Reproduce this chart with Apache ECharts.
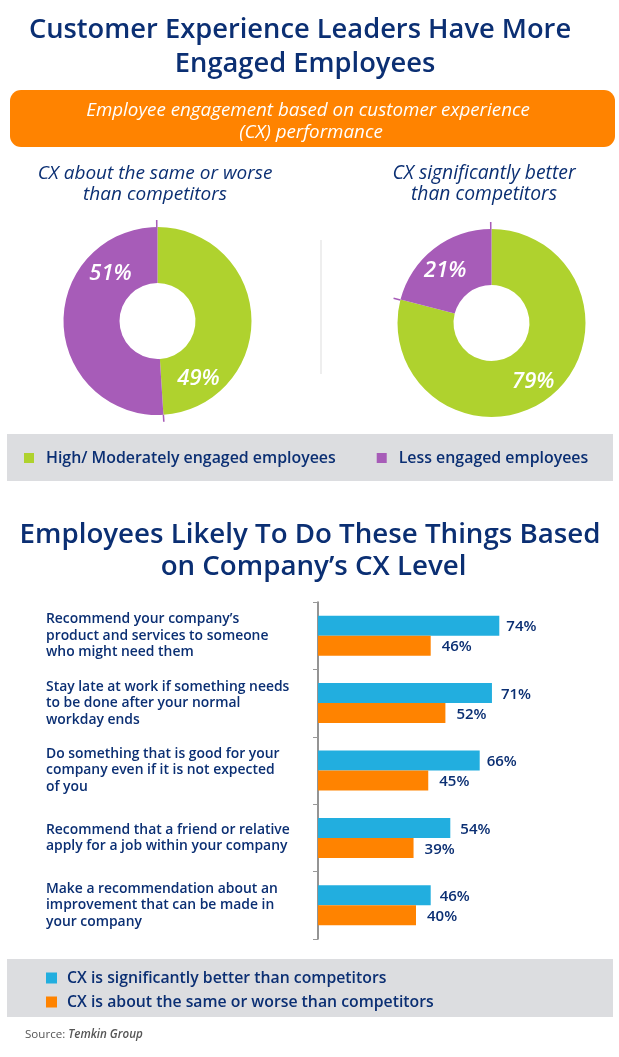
<!DOCTYPE html>
<html lang="en">
<head>
    <meta charset="UTF-8">
    <title>Customer Experience Leaders Have More Engaged Employees</title>
    <script src="https://cdn.jsdelivr.net/npm/echarts@6/dist/echarts.min.js"></script>
</head>
<body style="margin: 0;background: #fff">
<div id="main" style="width: 619px;height: 1057px"></div>
<script>
const navy = '#0b2f73', orange = '#ff8300', green = '#afd22e', purple = '#a75cb8', blue = '#22aedf', panel = '#dcdde0'
const font = '"Open Sans"'
const highName = 'High/ Moderately engaged employees', lessName = 'Less engaged employees'
const betterName = 'CX is significantly better than competitors', worseName = 'CX is about the same or worse than competitors'

const categories = [
    'Recommend your company\u2019s\nproduct and services to someone\nwho might need them',
    'Stay late at work if something needs\nto be done after your normal\nworkday ends',
    'Do something that is good for your\ncompany even if it is not expected\nof you',
    'Recommend that a friend or relative\napply for a job within your company',
    'Make a recommendation about an\nimprovement that can be made in\nyour company'
]
const better = [74, 71, 66, 54, 46]
const worse = [46, 52, 45, 39, 40]
// gap between bar end and its label differs per row in the picture
const betterGap = [7, 9, 7, 10, 9]
const worseGap = [11, 11, 11, 11, 11]

function text(x, y, str, size, weight, style, color) {
    return {
        type: 'text', x: x, y: y, z: 5,
        style: {
            text: str, fill: color || navy, align: 'center', verticalAlign: 'middle',
            font: (style || 'normal') + ' ' + weight + ' ' + size + 'px ' + font
        }
    }
}

// offset moves the label from the middle of the ring to where the picture has it
function donut(name, center, high, less, highOffset, lessOffset) {
    return {
        name: name, type: 'pie', center: center, radius: [38, 94], startAngle: 90, silent: true,
        label: {
            position: 'inside', formatter: '{c}%', color: '#fff', fontSize: 22, fontWeight: 600,
            fontStyle: 'italic', fontFamily: font
        },
        labelLine: { show: false },
        data: [
            { name: highName, value: high, itemStyle: { color: green }, label: { offset: highOffset } },
            { name: lessName, value: less, itemStyle: { color: purple }, label: { offset: lessOffset } }
        ]
    }
}

// the thin purple whiskers on the outside of each slice boundary
function whiskers(center, high, less) {
    const clear = { color: 'transparent' }, mark = { color: purple }
    return {
        type: 'pie', center: center, radius: [94, 101], startAngle: 90, silent: true,
        label: { show: false }, labelLine: { show: false },
        data: [
            { name: 'a', value: high, itemStyle: clear },
            { name: 'b', value: 0.25, itemStyle: mark },
            { name: 'c', value: less - 0.25, itemStyle: clear },
            { name: 'd', value: 0.25, itemStyle: mark }
        ]
    }
}

const option = {
    animation: false,
    graphic: [
        text(300, 30, 'Customer Experience Leaders Have More', 27.3, 600),
        text(305, 64, 'Engaged Employees', 27.3, 600),
        { type: 'rect', z: 1, shape: { x: 10, y: 90, width: 605, height: 57, r: 11 }, style: { fill: orange } },
        text(308, 111, 'Employee engagement based on customer experience', 18.8, 400, 'italic', '#fff'),
        text(311, 133, '(CX) performance', 18.8, 400, 'italic', '#fff'),
        text(155, 174, 'CX about the same or worse', 19, 400, 'italic'),
        text(155, 195, 'than competitors', 19, 400, 'italic'),
        text(484, 174, 'CX significantly better', 19.3, 400, 'italic'),
        text(484, 195, 'than competitors', 19.3, 400, 'italic'),
        { type: 'line', z: 1, shape: { x1: 321, y1: 240, x2: 321, y2: 374 }, style: { stroke: '#dddddd', lineWidth: 1 } },
        { type: 'rect', z: 1, shape: { x: 7, y: 434, width: 606, height: 47 }, style: { fill: panel } },
        text(310, 535, 'Employees Likely To Do These Things Based', 27.7, 600),
        text(313.5, 567, 'on Company\u2019s CX Level', 27.7, 600),
        { type: 'rect', z: 1, shape: { x: 7, y: 959, width: 606, height: 58 }, style: { fill: panel } },
        {
            type: 'text', x: 25, y: 1035, z: 5,
            style: {
                text: '{a|Source: }{b|Temkin Group}', align: 'left', verticalAlign: 'middle',
                rich: {
                    a: { fill: '#555', font: '11.6px ' + font },
                    b: { fill: '#555', font: 'italic 600 11.6px ' + font }
                }
            }
        }
    ],
    legend: [
        {
            left: 19, top: 445, orient: 'horizontal', icon: 'rect', itemWidth: 10, itemHeight: 10, itemGap: 41, selectedMode: false,
            textStyle: { color: navy, fontFamily: font, fontSize: 15.9, fontWeight: 600, padding: [0, 0, 0, 7] },
            data: [highName, lessName]
        },
        {
            left: 41, top: 965, orient: 'vertical', icon: 'rect', itemWidth: 11, itemHeight: 11, itemGap: 8, selectedMode: false,
            textStyle: { color: navy, fontFamily: font, fontSize: 15.8, fontWeight: 600, padding: [0, 0, 0, 5] },
            data: [betterName, worseName]
        }
    ],
    grid: { left: 318, top: 602, width: 245, height: 337, outerBoundsMode: 'none' },
    xAxis: { type: 'value', min: 0, max: 100, show: false },
    yAxis: {
        type: 'category', inverse: true, data: categories,
        axisLine: { lineStyle: { color: '#707070', width: 1.5 } },
        axisTick: { show: true, length: 5, lineStyle: { color: '#999999' } },
        axisLabel: {
            align: 'left', margin: 272, color: navy, fontFamily: font, fontSize: 13.9, fontWeight: 600, lineHeight: 16.5
        }
    },
    series: [
        donut('left', [157.5, 321], 49, 51, [-28, 59.5], [22, -49]),
        donut('right', [491.5, 323], 79, 21, [-0.5, 4.5], [-4, 2]),
        whiskers([157.5, 321], 49, 51),
        whiskers([491.5, 323], 79, 21),
        {
            name: betterName, type: 'bar', barWidth: 20, barGap: 0,
            itemStyle: { color: blue },
            data: better.map((v, i) => ({
                value: v,
                label: { distance: betterGap[i] }
            })),
            label: {
                show: true, position: 'right', offset: [0, 1.5], formatter: '{c}%', color: navy, fontFamily: font, fontSize: 15, fontWeight: 600
            }
        },
        {
            name: worseName, type: 'bar', barWidth: 20,
            itemStyle: { color: orange },
            data: worse.map((v, i) => ({
                value: v,
                label: { distance: worseGap[i] }
            })),
            label: {
                show: true, position: 'right', offset: [0, 1.5], formatter: '{c}%', color: navy, fontFamily: font, fontSize: 15, fontWeight: 600
            }
        }
    ]
}

echarts.init(document.getElementById('main'), null, { renderer: 'canvas' }).setOption(option)
</script>
</body>
</html>
